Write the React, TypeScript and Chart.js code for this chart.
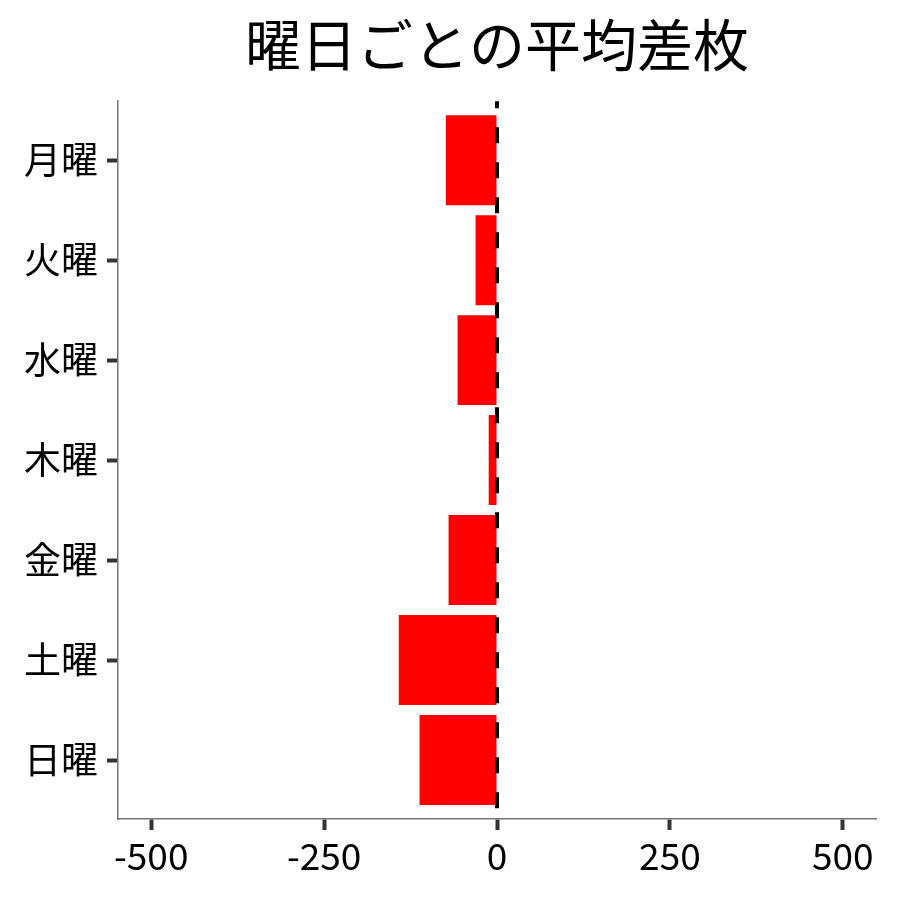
import { useEffect, useRef } from 'react'
import { Chart, registerables, ChartConfiguration, Plugin } from 'chart.js'

Chart.register(...registerables)

const days = ['月曜', '火曜', '水曜', '木曜', '金曜', '土曜', '日曜']
const avgDiff = [-74, -31, -57, -12, -70, -142, -112]
const xTicks = [-500, -250, 0, 250, 500]

const FONT = "'Noto Sans CJK JP', 'Noto Sans', sans-serif"

// dashed reference line at x = 0
const zeroLine: Plugin = {
  id: 'zeroLine',
  afterDatasetsDraw(chart) {
    const { ctx, chartArea, scales } = chart
    const x = scales.x.getPixelForValue(0)
    ctx.save()
    ctx.strokeStyle = '#000'
    ctx.lineWidth = 4
    ctx.setLineDash([16, 19])
    ctx.lineDashOffset = 9
    ctx.beginPath()
    ctx.moveTo(x, chartArea.top)
    ctx.lineTo(x, chartArea.bottom)
    ctx.stroke()
    ctx.restore()
  },
}

export default function App() {
  const chartRef = useRef<HTMLCanvasElement>(null)
  const chartInstance = useRef<Chart | null>(null)

  useEffect(() => {
    if (!chartRef.current) return
    const ctx = chartRef.current.getContext('2d')
    if (!ctx) return
    if (chartInstance.current) chartInstance.current.destroy()

    const config: ChartConfiguration = {
      type: 'bar',
      data: {
        datasets: [{
          data: avgDiff.map((v, i) => ({ x: v, y: i })),
          backgroundColor: '#ff0000',
          borderWidth: 0,
          barPercentage: 0.9,
          categoryPercentage: 1,
        }],
      },
      options: {
        indexAxis: 'y',
        animation: false,
        responsive: true,
        maintainAspectRatio: false,
        layout: { padding: { top: 0, left: 0, right: 24, bottom: 0 } },
        plugins: {
          legend: { display: false },
          tooltip: { enabled: false },
          title: {
            display: true,
            text: '曜日ごとの平均差枚',
            color: '#000',
            fullSize: false,
            font: { family: FONT, size: 56, weight: 'normal' },
            padding: { top: 11, bottom: 23 },
          },
        },
        scales: {
          x: {
            type: 'linear',
            min: -548,
            max: 548,
            afterBuildTicks: (scale) => {
              scale.ticks = xTicks.map((v) => ({ value: v }))
            },
            afterFit: (scale) => {
              scale.height = 81
            },
            grid: {
              drawOnChartArea: false,
              tickLength: 11,
              tickColor: '#333',
              tickWidth: 4,
            },
            border: { color: '#777', width: 1.5 },
            ticks: {
              color: '#000',
              padding: 4,
              font: { family: FONT, size: 37 },
              callback: (v) => String(v),
            },
          },
          y: {
            type: 'linear',
            reverse: true,
            offset: false,
            min: -0.59,
            max: 6.59,
            afterBuildTicks: (scale) => {
              scale.ticks = days.map((_, i) => ({ value: i }))
            },
            afterFit: (scale) => {
              scale.width = 118
            },
            grid: {
              offset: false,
              drawOnChartArea: false,
              tickLength: 11,
              tickColor: '#333',
              tickWidth: 4,
            },
            border: { color: '#777', width: 1.5 },
            ticks: {
              color: '#000',
              padding: 9,
              font: { family: FONT, size: 37 },
              callback: (v) => days[Number(v)] ?? '',
            },
          },
        },
      },
      plugins: [zeroLine],
    }

    chartInstance.current = new Chart(ctx, config)

    return () => {
      if (chartInstance.current) {
        chartInstance.current.destroy()
        chartInstance.current = null
      }
    }
  }, [])

  return (
    <div style={{ position: 'fixed', left: 0, top: 0, width: 900, height: 900, background: '#fff' }}>
      <canvas ref={chartRef}></canvas>
    </div>
  )
}
